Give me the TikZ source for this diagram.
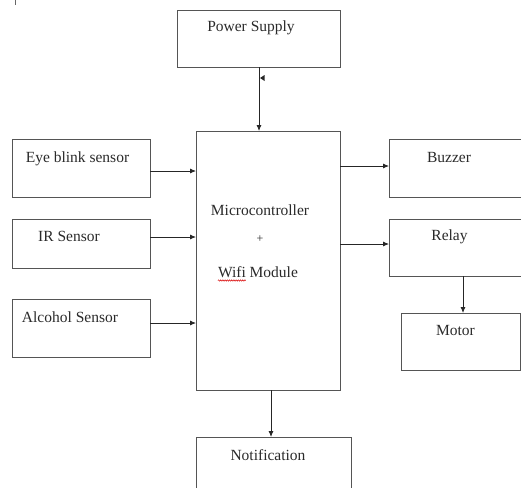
\documentclass[tikz,border=0pt]{standalone}
\usepackage{fontspec}
\setmainfont{Liberation Serif}
\usetikzlibrary{arrows.meta,decorations.pathmorphing}
\definecolor{txt}{HTML}{2A2A2A}
\definecolor{edge}{HTML}{555555}
\tikzset{
  box/.style={draw=edge, line width=0.9pt, inner sep=0pt, outer sep=0pt, fill=white},
  lbl/.style={anchor=base, inner sep=0pt, text=txt, font=\fontsize{15.5}{18}\selectfont},
  arr/.style={draw=black!85, line width=0.8pt, -{Latex[length=6pt,width=5pt]}},
}
\begin{document}
\begin{tikzpicture}[x=1pt,y=-1pt]
\useasboundingbox (0,0) rectangle (521,487);
\clip (0,0) rectangle (521,487);
\fill[white] (0,0) rectangle (521,487);
% boxes
\node[box, minimum width=163pt, minimum height=56.5pt] (ps) at (258.5,38.75) {};
\node[box, minimum width=144pt, minimum height=259pt] (mc) at (268,260.5) {};
\node[box, minimum width=138pt, minimum height=58pt] (eye) at (81,168) {};
\node[box, minimum width=138pt, minimum height=49pt] (ir) at (81,243.5) {};
\node[box, minimum width=138pt, minimum height=58pt] (alc) at (81,328) {};
\node[box, minimum width=141pt, minimum height=58pt] (buz) at (459.5,168) {};
\node[box, minimum width=141pt, minimum height=57pt] (rel) at (459.5,247.5) {};
\node[box, minimum width=119pt, minimum height=57pt] (mot) at (460.5,341.5) {};
\node[box, minimum width=155pt, minimum height=63pt] (not) at (273.5,468.5) {};
% labels
\node[lbl] (tps) at (251,31) {Power Supply};
\node[lbl] (teye) at (77.5,162) {Eye blink sensor};
\node[lbl] (tir) at (69,241) {IR Sensor};
\node[lbl] (talc) at (70,322) {Alcohol Sensor};
\node[lbl] (tmc1) at (260,215) {Microcontroller};
\node[lbl, font=\fontsize{12}{14}\selectfont] (tmc2) at (260,242) {+};
\node[lbl] (tmc3) at (258,277) {Wifi Module};
\node[lbl] (tbuz) at (449,162) {Buzzer};
\node[lbl] (trel) at (449.5,240) {Relay};
\node[lbl] (tmot) at (455.5,335) {Motor};
\node[lbl] (tnot) at (268,460) {Notification};
% spelling squiggle under Wifi
\draw[red!85!black, line width=0.5pt, decorate, decoration={snake, amplitude=0.7pt, segment length=2.2pt}]
  ([yshift=-3.5pt]tmc3.base west) -- ++(28,0);
% connectors
\path ([xshift=0.5pt]ps.south) coordinate (p1);
\draw[arr] (p1) -- (p1 |- mc.north);
\fill[black!85] (260,78) -- (264.5,75) -- (264.5,81) -- cycle;
\path ([yshift=-3pt]eye.east) coordinate (a1);
\draw[arr] (a1) -- (a1 -| mc.west);
\path ([yshift=6.5pt]ir.east) coordinate (a2);
\draw[arr] (a2) -- (a2 -| mc.west);
\path ([yshift=5pt]alc.east) coordinate (a3);
\draw[arr] (a3) -- (a3 -| mc.west);
\path ([yshift=2pt]buz.west) coordinate (b1);
\draw[arr] (b1 -| mc.east) -- (b1);
\path ([yshift=3.5pt]rel.west) coordinate (b2);
\draw[arr] (b2 -| mc.east) -- (b2);
\path ([xshift=3.5pt]rel.south) coordinate (r1);
\draw[arr] (r1) -- (r1 |- mot.north);
\path ([xshift=3pt]mc.south) coordinate (m1);
\draw[arr] (m1) -- (m1 |- not.north);
% stray tick top left
\draw[black!60, line width=0.8pt] (15,0) -- (15,5);
\end{tikzpicture}
\end{document}
